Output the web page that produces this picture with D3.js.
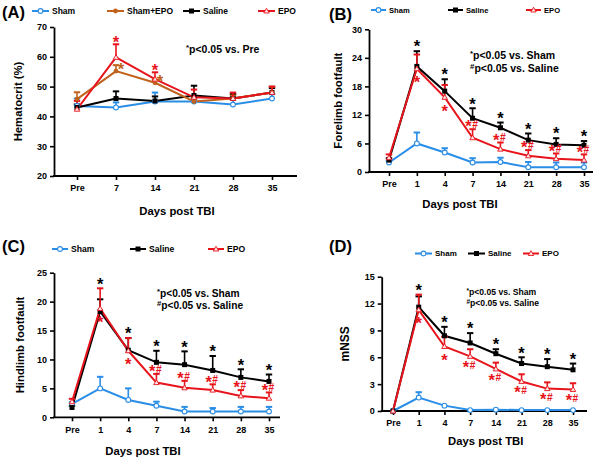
<!DOCTYPE html>
<html><head><meta charset="utf-8">
<script src="https://cdn.jsdelivr.net/npm/d3@7"></script>
<style>
body{margin:0;background:#fff}
svg{display:block}
text{font-family:"Liberation Sans",Arial,Helvetica,sans-serif;font-weight:bold;fill:#000}
</style>
</head><body>
<svg id="chart" width="604" height="460"></svg>
<script>
// ---------- categories ----------
const daysA = ["Pre","7","14","21","28","35"];
const daysTBI = ["Pre","1","4","7","14","21","28","35"];

// ---------- (A) Hematocrit ----------
const hctSham     = [43.5, 43.0, 45.0, 45.0, 44.0, 46.0];
const hctShamSem  = [2.5, 1.7, 3.0, 1.0, 2.5, 1.5];
const hctShamEpo  = [45.8, 55.2, 51.3, 45.0, 46.0, 48.0];
const hctShamEpoSem = [2.3, 2.0, 1.0, 1.0, 1.0, 2.0];
const hctSaline   = [43.0, 46.0, 45.2, 47.0, 46.0, 48.0];
const hctSalineSem= [1.0, 2.4, 1.5, 3.3, 1.5, 1.5];
const hctEpo      = [42.4, 59.8, 52.5, 46.4, 46.0, 48.0];
const hctEpoSem   = [2.8, 4.4, 2.3, 2.6, 2.0, 2.0];
const hctEpoStars = ["", "*", "*", "", "", ""];
const hctShamEpoStars = ["", "*", "*", "", "", ""];

// ---------- (B) Forelimb footfault ----------
const foreSham     = [2.0, 6.0, 4.1, 2.0, 2.1, 1.0, 1.0, 1.0];
const foreShamSem  = [0.4, 2.3, 0.9, 0.9, 0.9, 1.1, 1.0, 1.0];
const foreSaline   = [2.5, 22.2, 17.0, 11.3, 9.3, 6.7, 5.8, 5.6];
const foreSalineSem= [0.4, 3.2, 2.5, 2.1, 1.1, 1.4, 1.3, 0.9];
const foreEpo      = [3.0, 21.7, 15.7, 7.2, 4.8, 3.4, 2.8, 2.5];
const foreEpoSem   = [0.7, 3.0, 2.6, 1.8, 1.4, 1.2, 1.1, 1.2];
const foreSalineStars = ["", "*", "*", "*", "*", "*", "*", "*"];
const foreEpoStars    = ["", "*", "*", "*#", "*#", "*#", "*#", "*#"];

// ---------- (C) Hindlimb footfault ----------
const hindSham     = [2.3, 5.0, 3.0, 2.0, 1.0, 1.0, 1.0, 1.0];
const hindShamSem  = [0.3, 2.0, 2.0, 0.7, 0.8, 0.6, 0.8, 0.8];
const hindSaline   = [1.7, 18.3, 11.6, 9.5, 9.1, 8.1, 6.9, 6.2];
const hindSalineSem= [0.3, 2.1, 2.1, 2.0, 2.3, 2.5, 1.4, 1.2];
const hindEpo      = [2.7, 18.8, 11.5, 6.0, 5.1, 4.7, 3.7, 3.3];
const hindEpoSem   = [0.5, 3.5, 2.2, 1.5, 1.2, 1.0, 1.0, 1.0];
const hindSalineStars = ["", "*", "*", "*", "*", "*", "*", "*"];
const hindEpoStars    = ["", "*", "*", "*#", "*#", "*#", "*#", "*#"];

// ---------- (D) mNSS ----------
const nssSham      = [0.0, 1.5, 0.6, 0.1, 0.15, 0.1, 0.1, 0.1];
const nssShamSem   = [0, 0.6, 0, 0, 0, 0, 0, 0];
const nssSaline    = [0.0, 11.6, 8.4, 7.6, 6.4, 5.3, 4.95, 4.6];
const nssSalineSem = [0, 1.2, 1.0, 1.1, 0.5, 0.7, 0.85, 0.7];
const nssEpo       = [0.0, 11.3, 7.2, 6.1, 4.7, 3.3, 2.5, 2.4];
const nssEpoSem    = [0, 1.7, 1.1, 0.8, 0.7, 0.8, 0.7, 0.7];
const nssSalineStars = ["", "*", "*", "*", "*", "*", "*", "*"];
const nssEpoStars    = ["", "*", "*", "*#", "*#", "*#", "*#", "*#"];

// ---------- tick values ----------
const ticksA = [20,30,40,50,60,70];
const ticksB = [0,6,12,18,24,30];
const ticksC = [0,5,10,15,20,25];
const ticksD = [0,3,6,9,12,15];

// ---------- style ----------
const BLUE = "#2a8de6", RED = "#e8141c", BROWN = "#c0621c", BLACK = "#000";

const svg = d3.select("#chart");

function drawMarker(g, type, color, x, y) {
  if (type === "circleOpen") {
    g.append("circle").attr("cx", x).attr("cy", y).attr("r", 2.4)
      .attr("fill", "#fff").attr("stroke", color).attr("stroke-width", 1.1);
  } else if (type === "circleFill") {
    g.append("circle").attr("cx", x).attr("cy", y).attr("r", 2.4).attr("fill", color);
  } else if (type === "square") {
    g.append("rect").attr("x", x - 2.5).attr("y", y - 2.5).attr("width", 5).attr("height", 5).attr("fill", color);
  } else if (type === "triangleOpen") {
    g.append("path").attr("d", d3.symbol(d3.symbolTriangle, 13)())
      .attr("transform", `translate(${x},${y + 0.4})`)
      .attr("fill", "#fde4e4").attr("stroke", color).attr("stroke-width", 0.9);
  }
}

function starText(g, str, color, x, y, fs) {
  // y = visual centre of the asterisk
  const t = g.append("text").attr("x", x).attr("y", y + fs * 0.56)
    .attr("text-anchor", "middle").attr("fill", color).style("fill", color);
  t.append("tspan").attr("font-size", fs).text("*");
  if (str.includes("#")) {
    t.append("tspan").attr("font-size", fs * 0.62).attr("dx", 0.5).attr("dy", -fs * 0.26).text("#");
  }
}

function panel(cfg) {
  const g = svg.append("g");
  const b = cfg.box;
  const x = d3.scalePoint().domain(cfg.cats).range([b.xf, b.xl]);
  const y = d3.scaleLinear().domain(cfg.yDomain).range([b.yb, b.yt]);

  // axes
  const ya = g.append("g").attr("transform", `translate(${b.x0},0)`)
    .call(d3.axisLeft(y).tickValues(cfg.yTicks).tickSize(4).tickPadding(3).tickSizeOuter(0));
  ya.select(".domain").attr("stroke-width", 1.8);
  ya.selectAll(".tick line").attr("stroke-width", 1.6);
  ya.selectAll(".tick text").attr("font-size", 9).style("font-weight", "bold");

  const xa = g.append("g").attr("transform", `translate(0,${b.yb})`)
    .call(d3.axisBottom(x).tickSize(4).tickPadding(5).tickSizeOuter(0));
  xa.select(".domain").remove();
  xa.selectAll(".tick line").attr("stroke-width", 1.6);
  xa.selectAll(".tick text").attr("font-size", 9).style("font-weight", "bold");
  g.append("line").attr("x1", b.x0 - 0.9).attr("x2", b.x1).attr("y1", b.yb).attr("y2", b.yb)
    .attr("stroke", "#000").attr("stroke-width", 1.8);

  // axis titles
  g.append("text").attr("transform", `translate(${cfg.yLabelX},${(b.yt + b.yb) / 2}) rotate(-90)`)
    .attr("text-anchor", "middle").attr("dominant-baseline", "central")
    .attr("font-size", cfg.yLabelSize || 11.3).text(cfg.yLabel);
  g.append("text").attr("x", cfg.xLabel[0]).attr("y", cfg.xLabel[1])
    .attr("text-anchor", "middle").attr("dominant-baseline", "central")
    .attr("font-size", 11.3).text("Days post TBI");

  // panel letter
  g.append("text").attr("x", cfg.letter[0]).attr("y", cfg.letter[1])
    .attr("dominant-baseline", "central").attr("font-size", 16.5).text(cfg.letter[2]);

  // series: error bars, lines, markers
  cfg.series.forEach(s => {
    const sg = g.append("g");
    s.values.forEach((v, i) => {
      if (s.sem[i] > 0) {
        const cx = x(cfg.cats[i]);
        sg.append("line").attr("x1", cx).attr("x2", cx).attr("y1", y(v)).attr("y2", y(v + s.sem[i]))
          .attr("stroke", s.color).attr("stroke-width", 1.6);
        sg.append("line").attr("x1", cx - 3.2).attr("x2", cx + 3.2)
          .attr("y1", y(v + s.sem[i])).attr("y2", y(v + s.sem[i]))
          .attr("stroke", s.color).attr("stroke-width", 2);
      }
    });
    sg.append("path").datum(s.values)
      .attr("d", d3.line().x((d, i) => x(cfg.cats[i])).y(d => y(d)))
      .attr("fill", "none").attr("stroke", s.color).attr("stroke-width", 2);
  });
  cfg.series.forEach(s => {
    s.values.forEach((v, i) => drawMarker(g, s.marker, s.color, x(cfg.cats[i]), y(v)));
  });

  // significance marks
  cfg.series.forEach(s => {
    if (!s.stars) return;
    s.stars.forEach((st, i) => {
      if (!st) return;
      const cx = x(cfg.cats[i]);
      const v = s.values[i];
      const cap = v + s.sem[i];
      const maxCap = d3.max(cfg.series, q => q.values[i] + q.sem[i]);
      let sx = cx, sy;
      const mode = st.includes("#") ? s.pairPos : s.singlePos;
      if (mode === "aboveAll") sy = y(maxCap) - 8;
      else if (mode === "aboveCap") { sy = y(cap) - 6; if (st.includes("#")) sx = cx - 1; }
      else if (mode === "below") { sy = y(v) + (st.includes("#") ? 7.5 : 10); if (st.includes("#")) sx = cx - 1; }
      else if (mode === "right") { sx = cx + 5; sy = y(v) - 5; }
      starText(g, st, s.color, sx, sy, cfg.starSize || 16.5);
    });
  });

  // legend
  cfg.legend.forEach(l => {
    const s = cfg.series.find(q => q.name === l.name);
    g.append("line").attr("x1", l.x).attr("x2", l.x + l.len).attr("y1", l.y).attr("y2", l.y)
      .attr("stroke", s.color).attr("stroke-width", 2);
    drawMarker(g, s.marker, s.color, l.x + l.len / 2, l.y);
    g.append("text").attr("x", l.x + l.len + 3).attr("y", l.y).attr("dominant-baseline", "central")
      .attr("font-size", cfg.legendSize).text(l.name);
  });

  // annotation
  cfg.notes.forEach(n => {
    const t = g.append("text").attr("x", n.x).attr("y", n.y).attr("dominant-baseline", "central")
      .attr("font-size", cfg.noteSize);
    t.append("tspan").attr("font-size", cfg.noteSize * 0.75).attr("dy", -2).text(n.sym);
    t.append("tspan").attr("dy", 2).text(n.text);
  });
}

// ---------- (A) ----------
panel({
  cats: daysA, yDomain: [20, 70], yTicks: ticksA,
  box: {x0: 54, x1: 297, xf: 77, xl: 272, yt: 27, yb: 176},
  yLabel: "Hematocrit (%)", yLabelX: 18, xLabel: [177, 211], letter: [2, 12, "(A)"],
  series: [
    {name: "Sham", values: hctSham, sem: hctShamSem, color: BLUE, marker: "circleOpen"},
    {name: "Saline", values: hctSaline, sem: hctSalineSem, color: BLACK, marker: "square"},
    {name: "Sham+EPO", values: hctShamEpo, sem: hctShamEpoSem, color: BROWN, marker: "circleFill",
      stars: hctShamEpoStars, singlePos: "right"},
    {name: "EPO", values: hctEpo, sem: hctEpoSem, color: RED, marker: "triangleOpen",
      stars: hctEpoStars, singlePos: "aboveCap"}
  ],
  legend: [
    {name: "Sham", x: 32, y: 11, len: 17},
    {name: "Sham+EPO", x: 107, y: 11, len: 17},
    {name: "Saline", x: 183, y: 11, len: 17},
    {name: "EPO", x: 258, y: 11, len: 17}
  ],
  legendSize: 8.5, noteSize: 10.5,
  notes: [{x: 186, y: 49, sym: "*", text: "p<0.05 vs. Pre"}]
});

// ---------- (B) ----------
panel({
  cats: daysTBI, yDomain: [0, 30], yTicks: ticksB,
  box: {x0: 369, x1: 593, xf: 389, xl: 584, yt: 29.3, yb: 172},
  yLabel: "Forelimb footfault", yLabelX: 338, xLabel: [460, 204], letter: [329, 14, "(B)"],
  series: [
    {name: "Sham", values: foreSham, sem: foreShamSem, color: BLUE, marker: "circleOpen"},
    {name: "Saline", values: foreSaline, sem: foreSalineSem, color: BLACK, marker: "square",
      stars: foreSalineStars, singlePos: "aboveAll"},
    {name: "EPO", values: foreEpo, sem: foreEpoSem, color: RED, marker: "triangleOpen",
      stars: foreEpoStars, singlePos: "below", pairPos: "aboveCap"}
  ],
  legend: [
    {name: "Sham", x: 371, y: 10, len: 15},
    {name: "Saline", x: 448, y: 10, len: 15},
    {name: "EPO", x: 526, y: 10, len: 15}
  ],
  legendSize: 7.6, noteSize: 10.5,
  notes: [{x: 470, y: 55, sym: "*", text: "p<0.05 vs. Sham"},
          {x: 470, y: 68, sym: "#", text: "p<0.05 vs. Saline"}]
});

// ---------- (C) ----------
panel({
  cats: daysTBI, yDomain: [0, 25], yTicks: ticksC,
  box: {x0: 54, x1: 280, xf: 72, xl: 269, yt: 272.7, yb: 417.3},
  yLabel: "Hindlimb footfault", yLabelX: 20, xLabel: [143, 450.5], letter: [2, 246, "(C)"],
  series: [
    {name: "Sham", values: hindSham, sem: hindShamSem, color: BLUE, marker: "circleOpen"},
    {name: "Saline", values: hindSaline, sem: hindSalineSem, color: BLACK, marker: "square",
      stars: hindSalineStars, singlePos: "aboveAll"},
    {name: "EPO", values: hindEpo, sem: hindEpoSem, color: RED, marker: "triangleOpen",
      stars: hindEpoStars, singlePos: "below", pairPos: "aboveCap"}
  ],
  legend: [
    {name: "Sham", x: 52, y: 249, len: 16},
    {name: "Saline", x: 130, y: 249, len: 16},
    {name: "EPO", x: 208, y: 249, len: 16}
  ],
  legendSize: 8.6, noteSize: 10.2,
  notes: [{x: 157, y: 292.5, sym: "*", text: "p<0.05 vs. Sham"},
          {x: 157, y: 305, sym: "#", text: "p<0.05 vs. Saline"}]
});

// ---------- (D) ----------
panel({
  cats: daysTBI, yDomain: [0, 15], yTicks: ticksD,
  box: {x0: 381.7, x1: 587, xf: 393, xl: 573, yt: 276.7, yb: 411},
  yLabel: "mNSS", yLabelX: 345, yLabelSize: 12, xLabel: [485.7, 441], letter: [329, 246, "(D)"],
  series: [
    {name: "Sham", values: nssSham, sem: nssShamSem, color: BLUE, marker: "circleOpen"},
    {name: "Saline", values: nssSaline, sem: nssSalineSem, color: BLACK, marker: "square",
      stars: nssSalineStars, singlePos: "aboveAll"},
    {name: "EPO", values: nssEpo, sem: nssEpoSem, color: RED, marker: "triangleOpen",
      stars: nssEpoStars, singlePos: "below", pairPos: "below"}
  ],
  legend: [
    {name: "Sham", x: 415, y: 253.5, len: 17},
    {name: "Saline", x: 468, y: 253.5, len: 17},
    {name: "EPO", x: 523, y: 253.5, len: 16}
  ],
  legendSize: 8, noteSize: 8.6,
  notes: [{x: 466.5, y: 292, sym: "*", text: "p<0.05 vs. Sham"},
          {x: 466.5, y: 303, sym: "#", text: "p<0.05 vs. Saline"}]
});
</script>
</body></html>
